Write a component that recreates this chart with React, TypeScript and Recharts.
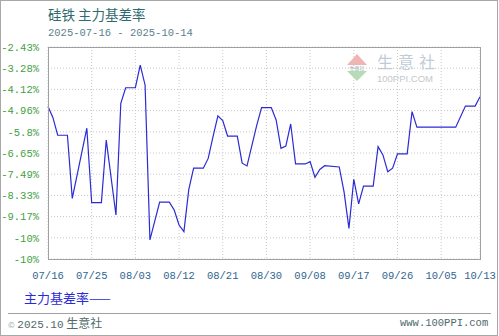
import { LineChart, Line, XAxis, YAxis, CartesianGrid } from "recharts";

const dates = [
    '07/16', '07/17', '07/18', '07/20', '07/21', '07/24', '07/25', '07/27', '07/28', '07/30',
    '07/31', '08/01', '08/03', '08/04', '08/05', '08/06', '08/08', '08/10', '08/11', '08/12',
    '08/13', '08/14', '08/15', '08/17', '08/18', '08/19', '08/20', '08/21', '08/22', '08/24',
    '08/25', '08/26', '08/27', '08/28', '08/29', '08/31', '09/01', '09/02', '09/03', '09/04',
    '09/05', '09/07', '09/08', '09/09', '09/10', '09/11', '09/14', '09/15', '09/16', '09/17',
    '09/18', '09/19', '09/21', '09/22', '09/23', '09/24', '09/25', '09/26', '09/28', '09/29',
    '09/30', '10/08', '10/10', '10/12', '10/13',
];

const basisRate = [
    -4.80, -5.23, -5.94, -5.94, -8.45, -5.66, -8.62, -8.62, -6.13, -9.11,
    -4.67, -4.05, -4.05, -3.15, -3.94, -10.10, -8.60, -8.60, -8.91, -9.51,
    -9.77, -8.10, -7.25, -7.25, -6.86, -5.99, -5.17, -5.36, -5.97, -5.97,
    -7.05, -7.16, -6.35, -5.55, -4.84, -4.84, -5.33, -6.46, -6.37, -5.49,
    -7.08, -7.08, -6.99, -7.61, -7.30, -7.15, -7.20, -8.20, -9.64, -7.69,
    -8.67, -7.96, -7.96, -6.39, -6.72, -7.39, -7.25, -6.68, -6.68, -5.00,
    -5.62, -5.62, -4.78, -4.78, -4.41,
];

const xTickDates = ['07/16', '07/25', '08/03', '08/12', '08/21', '08/30', '09/08', '09/17', '09/26', '10/05', '10/13'];

const yTicks = [-2.43, -3.273, -4.116, -4.959, -5.802, -6.645, -7.488, -8.331, -9.174, -10.017, -10.86];
const yTickLabels = ['-2.43%', '-3.28%', '-4.12%', '-4.96%', '-5.8%', '-6.65%', '-7.49%', '-8.33%', '-9.17%', '-10%', '-10%'];

// days since 07/16
const dayIndex = (md: string) => {
    const [m, d] = md.split('/').map(Number);
    return (Date.UTC(2025, m - 1, d) - Date.UTC(2025, 6, 16)) / 86400000;
};

const data = dates.map((d, i) => ({ day: dayIndex(d), value: basisRate[i] }));

const mono = "'Liberation Mono', 'DejaVu Sans Mono', monospace";
const cjk = "'Noto Sans CJK SC', 'Noto Sans', sans-serif";

export default function App() {
    return (
        <div style={{ position: 'absolute', left: 0, top: 0, width: 499, height: 336, background: '#fff', overflow: 'hidden' }}>
            <div style={{ position: 'absolute', left: 0, top: 0, width: 498, height: 336, border: '1px solid #a8a8a8', boxSizing: 'border-box' }} />

            <div style={{ position: 'absolute', left: 48, top: 6, fontFamily: cjk, fontSize: 13.5, lineHeight: '16px', color: '#2f6a6e', whiteSpace: 'nowrap' }}>
                硅铁 主力基差率
            </div>
            <div style={{ position: 'absolute', left: 48, top: 26, fontFamily: mono, fontSize: 10.5, lineHeight: '14px', color: '#5b7f8c', whiteSpace: 'nowrap' }}>
                2025-07-16 - 2025-10-14
            </div>

            {/* watermark */}
            <svg style={{ position: 'absolute', left: 0, top: 0 }} width={499} height={336}>
                <polygon points="347,65 357,54 367,65" fill="#f2b3b3" />
                <polygon points="347,71 357,81 367,71" fill="#b5dcb5" />
                <text x={357} y={70} fontSize={5} fill="#9aa" textAnchor="middle" fontFamily={cjk}>生意社</text>
                <text x={377} y={68} fontSize={16} fill="#c2cbd8" fontFamily={cjk} letterSpacing={5}>生意社</text>
                <text x={377} y={82} fontSize={9.5} fill="#c4c8cc" fontFamily="'Liberation Sans', sans-serif">100PPI.COM</text>
            </svg>

            <div style={{ position: 'absolute', left: 0, top: 0 }}>
                <LineChart width={499} height={336} data={data} margin={{ top: 47, right: 19, bottom: 47, left: 0 }}>
                    <CartesianGrid stroke="#c8c8c8" strokeDasharray="1 2" />
                    <XAxis
                        type="number"
                        dataKey="day"
                        domain={[0, 89]}
                        ticks={xTickDates.map(dayIndex)}
                        interval={0}
                        height={30}
                        tickSize={0}
                        tickMargin={13}
                        axisLine={false}
                        tickFormatter={(_v: number, i: number) => xTickDates[i]}
                        tick={{ fill: '#2f6590', fontSize: 10.5, fontFamily: mono }}
                    />
                    <YAxis
                        type="number"
                        domain={[-10.86, -2.43]}
                        ticks={yTicks}
                        interval={0}
                        width={48}
                        tickSize={0}
                        tickMargin={9}
                        axisLine={false}
                        tickFormatter={(_v: number, i: number) => yTickLabels[i]}
                        tick={{ fill: '#3f9f3f', fontSize: 10.5, fontFamily: mono }}
                    />
                    <Line
                        type="linear"
                        dataKey="value"
                        stroke="#2b2bd4"
                        strokeWidth={1.2}
                        dot={false}
                        isAnimationActive={false}
                    />
                </LineChart>
            </div>

            {/* plot frame */}
            <div style={{ position: 'absolute', left: 48, top: 47, width: 433, height: 213, border: '1px solid #a0a0a0', boxSizing: 'border-box', pointerEvents: 'none' }} />

            <div style={{ position: 'absolute', left: 24, top: 289, fontFamily: cjk, fontSize: 13, lineHeight: '18px', color: '#2b2bd4', whiteSpace: 'nowrap' }}>
                主力基差率——
            </div>

            <div style={{ position: 'absolute', left: 8, top: 313, width: 483, height: 1, background: '#a0a0a0' }} />
            <div style={{ position: 'absolute', left: 8, top: 315, fontFamily: cjk, fontSize: 12, lineHeight: '16px', color: '#4f6a6a', whiteSpace: 'nowrap' }}>
                <span style={{ fontSize: 8, color: '#9aa' }}>©</span> <span style={{ fontFamily: mono, fontSize: 11 }}>2025.10</span> 生意社
            </div>
            <div style={{ position: 'absolute', left: 400, top: 316, fontFamily: mono, fontSize: 10.5, lineHeight: '14px', color: '#4f6a6a', whiteSpace: 'nowrap' }}>
                www.100PPI.com
            </div>
        </div>
    );
}
